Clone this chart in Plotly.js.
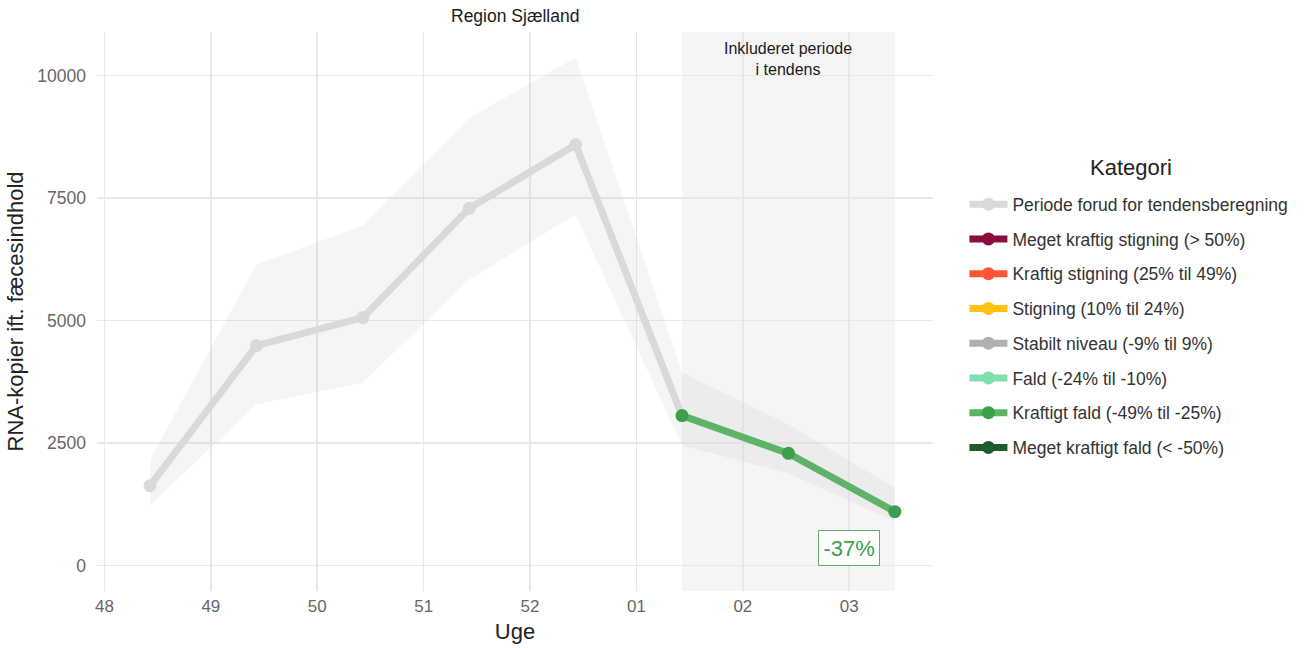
<!DOCTYPE html>
<html>
<head>
<meta charset="utf-8">
<script src="https://cdn.plot.ly/plotly-3.0.1.min.js"></script>
<style>html,body{margin:0;padding:0;background:#fff;}#chart{width:1307px;height:648px;}</style>
</head>
<body>
<div id="chart"></div>
<script>
// Data
var weekLabels = ['48', '49', '50', '51', '52', '01', '02', '03'];
var weekStarts = ['2022-11-28', '2022-12-05', '2022-12-12', '2022-12-19', '2022-12-26', '2023-01-02', '2023-01-09', '2023-01-16'];
var sampleDates = ['2022-12-01', '2022-12-08', '2022-12-15', '2022-12-22', '2022-12-29', '2023-01-05', '2023-01-12', '2023-01-19'];
var rnaValues = [1630, 4490, 5060, 7290, 8590, 3060, 2290, 1100];
var upperCI = [2160, 6140, 6940, 9140, 10370, 3940, 2880, 1590];
var lowerCI = [1230, 3290, 3730, 5840, 7160, 2450, 1880, 900];
var trendStart = 5; // index of first point in trend period
var trendLabel = '-37%';
var categories = [
  'Periode forud for tendensberegning',
  'Meget kraftig stigning (> 50%)',
  'Kraftig stigning (25% til 49%)',
  'Stigning (10% til 24%)',
  'Stabilt niveau (-9% til 9%)',
  'Fald (-24% til -10%)',
  'Kraftigt fald (-49% til -25%)',
  'Meget kraftigt fald (< -50%)'
];
var catColors = ['#d9d9d9', '#8b0f3e', '#fc5634', '#ffc20e', '#b0b0b0', '#80e0ad', '#3c9f4a', '#1e5a2a'];
var trendCategory = 6;

var font = 'Liberation Sans, Arial, sans-serif';
var traces = [];

// Ribbon
traces.push({x: sampleDates, y: lowerCI, mode: 'lines', line: {width: 0, color: 'rgba(0,0,0,0)'}, showlegend: false, hoverinfo: 'skip'});
traces.push({x: sampleDates, y: upperCI, mode: 'lines', line: {width: 0, color: 'rgba(0,0,0,0)'}, fill: 'tonexty', fillcolor: 'rgba(200,200,200,0.18)', showlegend: false, hoverinfo: 'skip'});

// Legend entries + data lines
for (var i = 0; i < categories.length; i++) {
  var xs = [null], ys = [null];
  if (i === 0) { xs = sampleDates.slice(0, trendStart + 1); ys = rnaValues.slice(0, trendStart + 1); }
  if (i === trendCategory) { xs = sampleDates.slice(trendStart); ys = rnaValues.slice(trendStart); }
  traces.push({
    x: xs, y: ys, name: categories[i], mode: 'lines+markers',
    legendgroup: 'g' + i,
    line: {color: i === trendCategory ? '#5db466' : catColors[i], width: 7},
    marker: {color: catColors[i], size: 13},
    showlegend: true
  });
}

var layout = {
  width: 1307, height: 648,
  margin: {l: 97, r: 374, t: 32, b: 57},
  paper_bgcolor: '#ffffff', plot_bgcolor: '#ffffff',
  font: {family: font, color: '#1a1a1a'},
  xaxis: {
    type: 'date',
    range: ['2022-11-27 12:15', '2023-01-21 12:15'],
    tickvals: weekStarts, ticktext: weekLabels,
    showgrid: true, gridcolor: '#e8e8e8', gridwidth: 1.6,
    zeroline: false, showline: false, ticks: '',
    tickfont: {size: 17, color: '#666666'},
    ticklabelstandoff: 3,
    title: {text: 'Uge', font: {size: 22, color: '#222222'}, standoff: 8}
  },
  yaxis: {
    range: [-520, 10890],
    tickvals: [0, 2500, 5000, 7500, 10000],
    ticktext: ['0', '2500', '5000', '7500', '10000'],
    showgrid: true, gridcolor: '#e8e8e8', gridwidth: 1.6,
    zeroline: false, showline: false, ticks: '',
    tickfont: {size: 17.5, color: '#666666'},
    ticklabelstandoff: 10,
    title: {text: 'RNA-kopier ift. fæcesindhold', font: {size: 22, color: '#222222'}, standoff: 7}
  },
  shapes: [{
    type: 'rect', xref: 'x', yref: 'paper', layer: 'below',
    x0: sampleDates[trendStart], x1: sampleDates[sampleDates.length - 1], y0: 0, y1: 1,
    fillcolor: 'rgba(200,200,200,0.18)', line: {width: 0}
  }],
  annotations: [
    {xref: 'paper', yref: 'paper', x: 0.5, y: 1, yanchor: 'bottom', yshift: 4, showarrow: false,
     text: 'Region Sjælland', font: {size: 17.5, color: '#1a1a1a'}},
    {xref: 'x', yref: 'y', x: '2023-01-12', y: 10330, showarrow: false,
     text: 'Inkluderet periode<br>i tendens', font: {size: 16, color: '#1a1a1a'}},
    {xref: 'x', yref: 'y', x: '2023-01-16', y: 350, showarrow: false,
     text: trendLabel, font: {size: 22, color: '#3c9f4a'},
     bordercolor: '#5db466', borderwidth: 1, borderpad: 4.5, bgcolor: '#ffffff'},
    {xref: 'paper', yref: 'paper', x: (1131 - 97) / 836, y: (591 - 167) / 559,
     xanchor: 'center', yanchor: 'middle', showarrow: false,
     text: 'Kategori', font: {size: 22, color: '#222222'}}
  ],
  legend: {
    x: 1.0376, xanchor: 'left', y: 0.724, yanchor: 'top',
    font: {size: 17.5, color: '#333333'},
    tracegroupgap: 9,
    itemwidth: 38,
    traceorder: 'grouped',
    bgcolor: 'rgba(0,0,0,0)'
  },
  showlegend: true
};

Plotly.newPlot('chart', traces, layout, {displayModeBar: false, staticPlot: true});
</script>
</body>
</html>
